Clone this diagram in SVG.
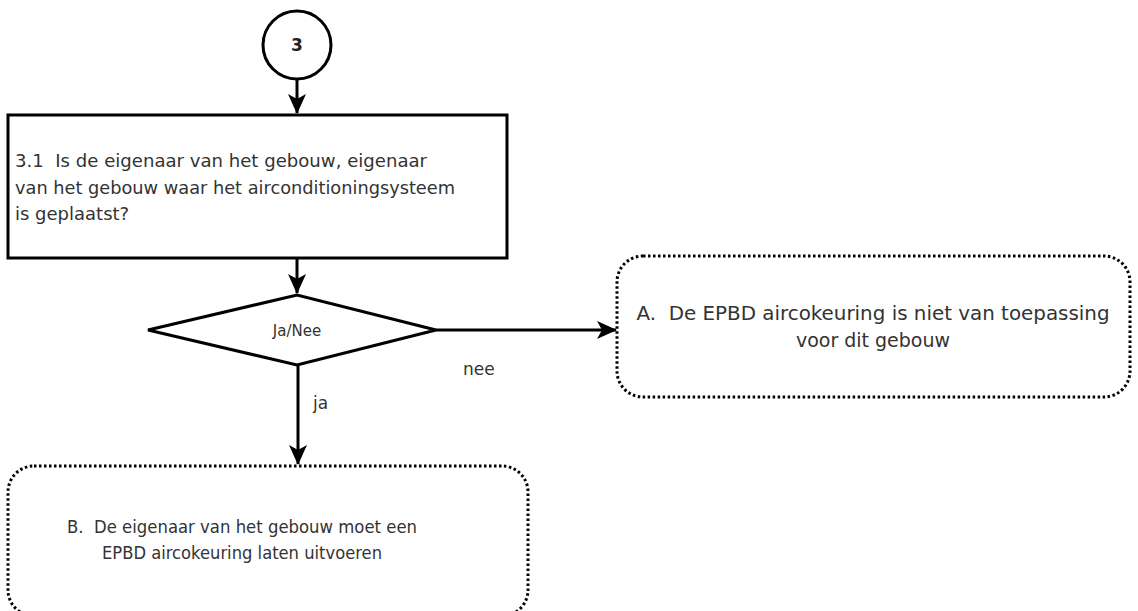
<svg xmlns="http://www.w3.org/2000/svg" width="1138" height="611" viewBox="0 0 1138 611">
<style>
.solid{fill:#fff;stroke:#000;stroke-width:3}
.dotted{fill:#fff;stroke:#000;stroke-width:3;stroke-dasharray:2.5 2.5}
.t{font-family:"DejaVu Sans",Verdana,sans-serif;font-size:17px;fill:#333;white-space:pre}
.c{text-anchor:middle}
.edge{stroke:#000;stroke-width:3;fill:none}
</style>
<defs>
<marker id="ah" viewBox="0 0 20 20" refX="19" refY="10" markerWidth="20" markerHeight="20" markerUnits="userSpaceOnUse" orient="auto">
<path d="M0,1 L20,10 L0,19 L5,10 Z" fill="#000"/>
</marker>
</defs>
<rect width="1138" height="611" fill="#fff"/>
<g id="connectors">
<line class="edge" x1="297" y1="78" x2="297" y2="113" marker-end="url(#ah)"/>
<line class="edge" x1="297" y1="258" x2="297" y2="293" marker-end="url(#ah)"/>
<line class="edge" x1="436" y1="330" x2="616" y2="330" marker-end="url(#ah)"/>
<line class="edge" x1="298" y1="365" x2="298" y2="464" marker-end="url(#ah)"/>
<text class="t" x="463" y="375">nee</text>
<text class="t" x="313" y="409">ja</text>
</g>
<g id="n3">
<circle class="solid" cx="297" cy="45" r="34"/>
<text x="297" y="51" text-anchor="middle" style="font-family:'DejaVu Sans',Verdana,sans-serif;font-size:17px;font-weight:bold;fill:#222">3</text>
</g>
<g id="q31">
<rect class="solid" x="8" y="115" width="499" height="143"/>
<text class="t" x="15" y="167" textLength="412" lengthAdjust="spacingAndGlyphs" style="font-size:18px">3.1  Is de eigenaar van het gebouw, eigenaar</text>
<text class="t" x="15" y="194" textLength="440" lengthAdjust="spacingAndGlyphs" style="font-size:18px">van het gebouw waar het airconditioningsysteem</text>
<text class="t" x="15" y="220" style="font-size:18px">is geplaatst?</text>
</g>
<g id="decision">
<polygon class="solid" points="148,330 297,295 436,330 297,365"/>
<text class="t c" x="297" y="336" style="font-size:15px">Ja/Nee</text>
</g>
<g id="A">
<rect class="dotted" x="617" y="256" width="513" height="141" rx="26"/>
<text class="t c" x="873" y="320" textLength="473" lengthAdjust="spacingAndGlyphs" style="font-size:19px">A.  De EPBD aircokeuring is niet van toepassing</text>
<text class="t c" x="873" y="347" style="font-size:19px">voor dit gebouw</text>
</g>
<g id="B">
<rect class="dotted" x="8" y="466" width="520" height="150" rx="26"/>
<text class="t c" x="242" y="533" textLength="350" lengthAdjust="spacingAndGlyphs">B.  De eigenaar van het gebouw moet een</text>
<text class="t c" x="242" y="559" textLength="280" lengthAdjust="spacingAndGlyphs">EPBD aircokeuring laten uitvoeren</text>
</g>
</svg>
